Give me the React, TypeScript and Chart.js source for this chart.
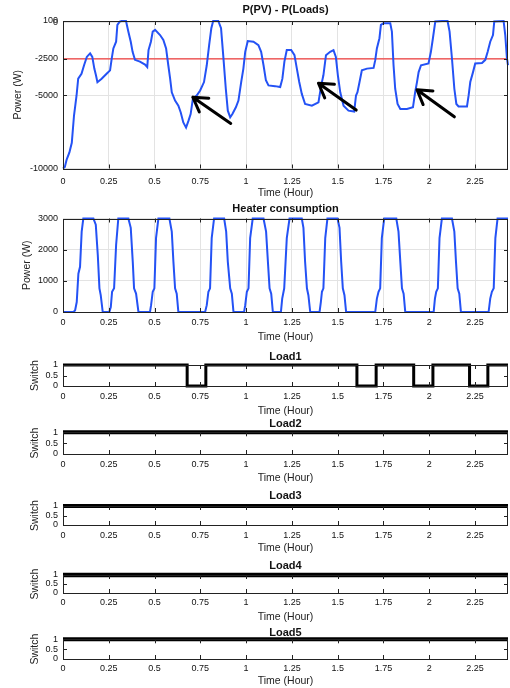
import React, { useEffect, useRef } from "react";
import { Chart, registerables } from "chart.js";
Chart.register(...registerables);

const FONT = "'Liberation Sans', Arial, Helvetica, sans-serif";

// ---------- shared axis data ----------
const xTickValues = [0, 0.25, 0.5, 0.75, 1, 1.25, 1.5, 1.75, 2, 2.25];
const X_MAX = 2.43;

// ---------- P(PV) - P(Loads) ----------
const netTime = [
  0, 0.01, 0.02, 0.035, 0.048, 0.06, 0.074, 0.083, 0.101, 0.115, 0.13, 0.148, 0.16, 0.171, 0.18, 0.188,
  0.211, 0.238, 0.257, 0.266, 0.275, 0.29, 0.297, 0.31, 0.32, 0.344, 0.357, 0.37, 0.38, 0.393, 0.42,
  0.448, 0.46, 0.467, 0.48, 0.49, 0.503, 0.53, 0.548, 0.563, 0.575, 0.585, 0.594, 0.612, 0.63, 0.643,
  0.657, 0.672, 0.685, 0.697, 0.709, 0.73, 0.749, 0.77, 0.785, 0.798, 0.81, 0.82, 0.848, 0.863, 0.876,
  0.889, 0.9, 0.913, 0.925, 0.944, 0.958, 0.973, 0.985, 0.995, 1.009, 1.04, 1.067, 1.082, 1.095, 1.108,
  1.122, 1.158, 1.186, 1.198, 1.209, 1.222, 1.246, 1.264, 1.277, 1.29, 1.304, 1.322, 1.359, 1.395, 1.41,
  1.422, 1.436, 1.459, 1.477, 1.49, 1.501, 1.514, 1.532, 1.559, 1.59, 1.6, 1.608, 1.619, 1.632, 1.66,
  1.696, 1.705, 1.714, 1.728, 1.736, 1.75, 1.787, 1.796, 1.805, 1.814, 1.827, 1.842, 1.878, 1.911, 1.923,
  1.933, 1.942, 1.955, 1.996, 2.009, 2.02, 2.033, 2.07, 2.1, 2.111, 2.124, 2.137, 2.148, 2.16, 2.206,
  2.215, 2.224, 2.239, 2.251, 2.288, 2.306, 2.319, 2.333, 2.348, 2.355, 2.406, 2.415, 2.424, 2.43,
];
const netPower = [
  -10000, -9900, -9390, -8900, -8240, -6390, -5000, -3850, -3510, -2930, -2360, -2120, -2360, -3160, -3620, -4090,
  -3850, -3510, -3280, -2470, -1780, -1320, -160, 60, 100, 100, -630, -1320, -2010, -2560, -2680,
  -2880, -3050, -1890, -1320, -630, -510, -860, -1200, -1780, -2930, -3850, -4780, -5350, -5700, -6160,
  -6850, -7200, -6740, -6270, -5240, -5000, -4660, -4080, -2930, -1550, -390, 100, 100, -390, -2430,
  -4540, -6040, -6500, -6270, -5810, -5350, -4080, -3160, -2010, -1270, -1320, -1550, -2010, -2930, -3960,
  -4310, -4360, -4420, -3850, -2680, -1890, -1890, -2240, -3160, -4080, -4890, -5580, -5700, -5470, -4310,
  -3620, -2240, -2010, -1890, -2360, -3620, -4780, -5700, -6040, -6100, -5000, -4780, -4090, -3280, -3160,
  -3110, -2580, -1780, -1080, -160, -50, -50, -630, -2930, -4540, -5580, -5930, -5930, -5810, -4780,
  -4090, -3400, -2930, -2810, -2010, -1080, 70, 100, 100, -630, -2470, -4540, -5580, -5750, -5750,
  -5000, -4080, -3400, -2810, -2770, -2560, -2010, -1320, -860, 70, 100, -860, -2430, -2930,
];
const thresholdTime = [0, X_MAX];
const thresholdPower = [-2500, -2500];
const netYTicks = [-10000, -5000, -2500, 0, 100];

// annotation arrows (data coordinates)
const arrowHeadTime = [0.709, 1.395, 1.933];
const arrowHeadPower = [-5120, -4160, -4610];
const arrowTailTime = [0.916, 1.601, 2.137];
const arrowTailPower = [-6920, -6000, -6460];

// ---------- Heater consumption ----------
const heaterTime = [
  0, 0.056, 0.066, 0.075, 0.084, 0.093, 0.102, 0.111, 0.166, 0.179, 0.19, 0.199, 0.206, 0.217,
  0.253, 0.261, 0.268, 0.279, 0.29, 0.302, 0.357, 0.37, 0.381, 0.388, 0.399, 0.412,
  0.475, 0.481, 0.49, 0.499, 0.508, 0.521, 0.581, 0.594, 0.603, 0.612, 0.621, 0.63,
  0.776, 0.785, 0.794, 0.803, 0.812, 0.825, 0.88, 0.891, 0.9, 0.913, 0.922, 0.931,
  0.989, 0.995, 1.004, 1.013, 1.022, 1.036, 1.095, 1.109, 1.119, 1.128, 1.137, 1.146,
  1.19, 1.197, 1.208, 1.222, 1.237, 1.304, 1.313, 1.322, 1.332, 1.34, 1.35,
  1.401, 1.408, 1.414, 1.422, 1.432, 1.444, 1.499, 1.51, 1.519, 1.528, 1.537, 1.546,
  1.705, 1.714, 1.723, 1.732, 1.741, 1.754, 1.82, 1.832, 1.842, 1.851, 1.86, 1.869,
  2.024, 2.031, 2.038, 2.047, 2.056, 2.069, 2.124, 2.137, 2.146, 2.155, 2.164, 2.173,
  2.324, 2.333, 2.342, 2.352, 2.361, 2.373, 2.43,
];
const heaterPower = [
  0, 0, 50, 320, 1230, 1450, 2580, 3000, 3000, 2800, 1830, 760, 540, 0,
  0, 160, 650, 760, 2150, 3000, 3000, 2700, 1610, 760, 590, 0,
  0, 220, 650, 760, 2370, 3000, 3000, 2580, 1610, 760, 590, 0,
  0, 220, 650, 760, 2370, 3000, 3000, 2580, 1610, 760, 590, 0,
  0, 220, 650, 760, 2370, 3000, 3000, 2580, 1610, 760, 590, 0,
  0, 430, 760, 2370, 3000, 3000, 2700, 1610, 760, 540, 0,
  0, 320, 650, 760, 2370, 3000, 3000, 2700, 1610, 760, 540, 0,
  0, 430, 650, 760, 2370, 3000, 3000, 2580, 1610, 760, 590, 0,
  0, 430, 650, 760, 2370, 3000, 3000, 2580, 1610, 760, 590, 0,
  0, 430, 650, 760, 2370, 3000, 3000,
];
const heaterYTicks = [0, 1000, 2000, 3000];

// ---------- Load switches ----------
const switchYTicks = [0, 0.5, 1];
const load1Time = [0, 0.678, 0.78, 1.605, 1.71, 1.915, 2.02, 2.22, 2.32, 2.43];
const load1State = [1, 0, 1, 0, 1, 0, 1, 0, 1, 1];
const load2Time = [0, 2.43];
const load2State = [1, 1];
const load3Time = [0, 2.43];
const load3State = [1, 1];
const load4Time = [0, 2.43];
const load4State = [1, 1];
const load5Time = [0, 2.43];
const load5State = [1, 1];

// ---------- panel layout ----------
type Series = { t: number[]; v: number[]; color: string; width: number; stepped?: boolean };
type Panel = {
  title: string;
  yTitle: string;
  yMin: number;
  yMax: number;
  yTicks: number[];
  series: Series[];
  grid: boolean;
  arrows?: boolean;
  titleY: number;
  top: number;
  bottom: number;
  tickY: number;
  timeY: number;
  yTitleX: number;
};

const BLUE = "#2452f5";
const RED = "#f03c3c";

const panels: Panel[] = [
  {
    title: "P(PV) - P(Loads)", yTitle: "Power (W)", yMin: -10000, yMax: 100, yTicks: netYTicks,
    series: [
      { t: netTime, v: netPower, color: BLUE, width: 2 },
      { t: thresholdTime, v: thresholdPower, color: RED, width: 1.2 },
    ],
    grid: true, arrows: true,
    titleY: 10, top: 21, bottom: 168.5, tickY: 181.5, timeY: 193.5, yTitleX: 18,
  },
  {
    title: "Heater consumption", yTitle: "Power (W)", yMin: 0, yMax: 3000, yTicks: heaterYTicks,
    series: [{ t: heaterTime, v: heaterPower, color: BLUE, width: 2 }],
    grid: true,
    titleY: 209, top: 218.5, bottom: 312, tickY: 322.3, timeY: 336.7, yTitleX: 26.7,
  },
  {
    title: "Load1", yTitle: "Switch", yMin: 0, yMax: 1, yTicks: switchYTicks,
    series: [{ t: load1Time, v: load1State, color: "#000", width: 3, stepped: true }],
    grid: false,
    titleY: 357, top: 365, bottom: 386, tickY: 396.7, timeY: 410.7, yTitleX: 35,
  },
  {
    title: "Load2", yTitle: "Switch", yMin: 0, yMax: 1, yTicks: switchYTicks,
    series: [{ t: load2Time, v: load2State, color: "#000", width: 4, stepped: true }],
    grid: false,
    titleY: 424, top: 432.3, bottom: 454, tickY: 464.3, timeY: 478.3, yTitleX: 35,
  },
  {
    title: "Load3", yTitle: "Switch", yMin: 0, yMax: 1, yTicks: switchYTicks,
    series: [{ t: load3Time, v: load3State, color: "#000", width: 4, stepped: true }],
    grid: false,
    titleY: 496, top: 506, bottom: 525, tickY: 535.7, timeY: 548.3, yTitleX: 35,
  },
  {
    title: "Load4", yTitle: "Switch", yMin: 0, yMax: 1, yTicks: switchYTicks,
    series: [{ t: load4Time, v: load4State, color: "#000", width: 4.5, stepped: true }],
    grid: false,
    titleY: 566, top: 575, bottom: 593, tickY: 602.7, timeY: 616.7, yTitleX: 35,
  },
  {
    title: "Load5", yTitle: "Switch", yMin: 0, yMax: 1, yTicks: switchYTicks,
    series: [{ t: load5Time, v: load5State, color: "#000", width: 4, stepped: true }],
    grid: false,
    titleY: 632.7, top: 639.3, bottom: 659, tickY: 668.7, timeY: 681, yTitleX: 35,
  },
];

function framePlugin(yTicks: number[]) {
  return {
    id: "frame",
    afterDatasetsDraw(chart: any) {
      const { ctx, chartArea: a, scales } = chart;
      const xs = scales.x;
      const ys = scales.y;
      ctx.save();
      ctx.strokeStyle = "#222";
      ctx.lineWidth = 1;
      ctx.beginPath();
      for (const v of xTickValues) {
        const px = Math.round(xs.getPixelForValue(v)) + 0.5;
        if (px <= a.left + 1 || px >= a.right - 1) continue;
        ctx.moveTo(px, a.top);
        ctx.lineTo(px, a.top + 4);
        ctx.moveTo(px, a.bottom);
        ctx.lineTo(px, a.bottom - 4);
      }
      for (const v of yTicks) {
        const py = Math.round(ys.getPixelForValue(v)) + 0.5;
        if (py <= a.top + 1.5 || py >= a.bottom - 1.5) continue;
        ctx.moveTo(a.left, py);
        ctx.lineTo(a.left + 4, py);
        ctx.moveTo(a.right, py);
        ctx.lineTo(a.right - 4, py);
      }
      ctx.stroke();
      ctx.strokeRect(
        Math.round(a.left) + 0.5,
        Math.round(a.top) + 0.5,
        Math.round(a.right) - Math.round(a.left) - 1,
        Math.round(a.bottom) - Math.round(a.top)
      );
      ctx.restore();
    },
  };
}

const arrowPlugin = {
  id: "arrows",
  afterDatasetsDraw(chart: any) {
    const { ctx, scales } = chart;
    const xs = scales.x;
    const ys = scales.y;
    ctx.save();
    ctx.strokeStyle = "#000";
    ctx.lineWidth = 3;
    ctx.lineCap = "round";
    ctx.lineJoin = "round";
    arrowHeadTime.forEach((ht, i) => {
      const hx = xs.getPixelForValue(ht);
      const hy = ys.getPixelForValue(arrowHeadPower[i]);
      const tx = xs.getPixelForValue(arrowTailTime[i]);
      const ty = ys.getPixelForValue(arrowTailPower[i]);
      const ang = Math.atan2(ty - hy, tx - hx);
      const L = 16;
      const spread = 0.55;
      ctx.beginPath();
      ctx.moveTo(tx, ty);
      ctx.lineTo(hx, hy);
      ctx.moveTo(hx + L * Math.cos(ang - spread), hy + L * Math.sin(ang - spread));
      ctx.lineTo(hx, hy);
      ctx.lineTo(hx + L * Math.cos(ang + spread), hy + L * Math.sin(ang + spread));
      ctx.stroke();
    });
    ctx.restore();
  },
};

function PanelChart({ p }: { p: Panel }) {
  const ref = useRef<HTMLCanvasElement | null>(null);

  const cTop = Math.floor(p.titleY - 8);
  const titlePadTop = p.titleY - 5.5 - cTop;
  const titlePadBottom = p.top - cTop - 11 - titlePadTop;
  const cBottom = Math.min(688, Math.ceil(p.timeY + 8));
  const xH = cBottom - p.bottom;
  const xTitlePadBottom = cBottom - p.timeY - 5.25;
  const tickPad = p.tickY - p.bottom - 4.5;
  const cH = cBottom - cTop;

  useEffect(() => {
    if (!ref.current) return;
    const plugins: any[] = [framePlugin(p.yTicks)];
    if (p.arrows) plugins.push(arrowPlugin);
    const chart = new Chart(ref.current, {
      type: "line",
      data: {
        datasets: p.series.map((s) => ({
          data: s.t.map((x, i) => ({ x, y: s.v[i] })),
          borderColor: s.color,
          backgroundColor: s.color,
          borderWidth: s.width,
          pointRadius: 0,
          pointHoverRadius: 0,
          stepped: s.stepped ? "before" : false,
          tension: 0,
          fill: false,
          clip: false as any,
        })),
      },
      options: {
        animation: false,
        responsive: false,
        devicePixelRatio: 1,
        events: [],
        layout: { padding: { left: 0, right: 2, top: 0, bottom: 0 } },
        plugins: {
          legend: { display: false },
          tooltip: { enabled: false },
          title: {
            display: true,
            text: p.title,
            fullSize: false,
            color: "#111",
            font: { family: FONT, size: 11, weight: "bold", lineHeight: 1 },
            padding: { top: titlePadTop, bottom: titlePadBottom },
          },
        },
        scales: {
          x: {
            type: "linear",
            min: 0,
            max: X_MAX,
            afterBuildTicks: (s: any) => {
              s.ticks = xTickValues.map((v) => ({ value: v }));
            },
            afterFit: (s: any) => {
              s.height = xH;
            },
            grid: { display: p.grid, color: "#e3e3e3", drawTicks: false, lineWidth: 1 },
            border: { display: false },
            ticks: {
              autoSkip: false,
              maxRotation: 0,
              padding: tickPad,
              color: "#111",
              font: { family: FONT, size: 9, lineHeight: 1 },
              callback: (v: any) => String(v),
            },
            title: {
              display: true,
              text: "Time (Hour)",
              color: "#222",
              font: { family: FONT, size: 10.5, lineHeight: 1 },
              padding: { top: 0, bottom: xTitlePadBottom },
            },
          },
          y: {
            type: "linear",
            min: p.yMin,
            max: p.yMax,
            afterBuildTicks: (s: any) => {
              s.ticks = p.yTicks.map((v) => ({ value: v }));
            },
            afterFit: (s: any) => {
              s.width = 63;
            },
            grid: { display: p.grid, color: "#e3e3e3", drawTicks: false, lineWidth: 1 },
            border: { display: false },
            ticks: {
              autoSkip: false,
              padding: 5,
              color: "#111",
              font: { family: FONT, size: 9, lineHeight: 1 },
              callback: (v: any) => String(v),
            },
            title: {
              display: true,
              text: p.yTitle,
              color: "#222",
              font: { family: FONT, size: 10.5, lineHeight: 1 },
              padding: { top: p.yTitleX - 5.25, bottom: 0 },
            },
          },
        },
      } as any,
      plugins,
    });
    return () => chart.destroy();
  }, []);

  return (
    <canvas
      ref={ref}
      width={510}
      height={cH}
      style={{ position: "absolute", left: 0, top: cTop, width: 510, height: cH, display: "block" }}
    />
  );
}

export default function App() {
  return (
    <div style={{ position: "absolute", left: 0, top: 0, width: 510, height: 688, background: "#fff", overflow: "hidden" }}>
      {panels.map((p, i) => (
        <PanelChart key={i} p={p} />
      ))}
    </div>
  );
}
